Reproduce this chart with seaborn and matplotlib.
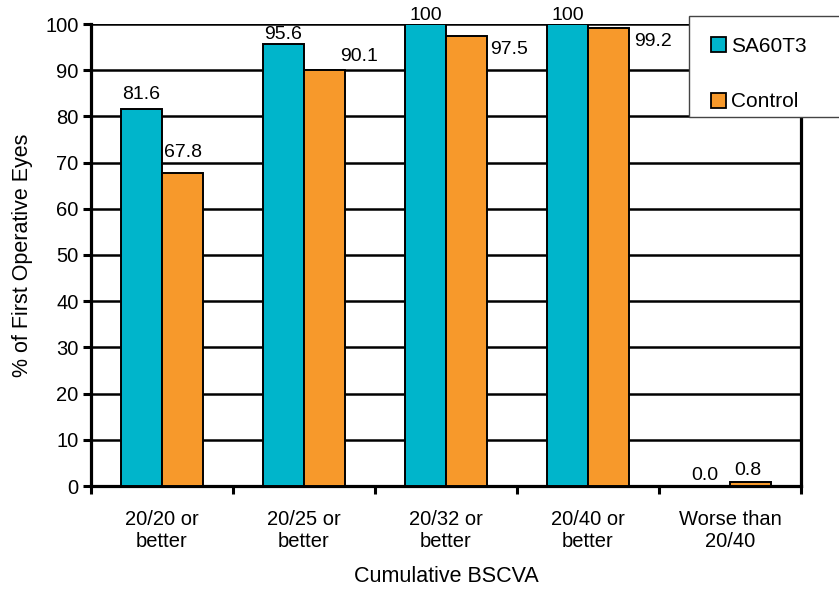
import matplotlib
matplotlib.use("Agg")
import matplotlib.pyplot as plt
import seaborn as sns
import pandas as pd
from matplotlib.patches import Rectangle, Patch

categories = ["20/20 or\nbetter", "20/25 or\nbetter", "20/32 or\nbetter", "20/40 or\nbetter", "Worse than\n20/40"]
sa60t3 = [81.6, 95.6, 100, 100, 0.0]
control = [67.8, 90.1, 97.5, 99.2, 0.8]
sa60t3_labels = ["81.6", "95.6", "100", "100", "0.0"]
control_labels = ["67.8", "90.1", "97.5", "99.2", "0.8"]
series = ["SA60T3", "Control"]
colors = ["#00B5CB", "#F7992B"]

df = pd.DataFrame({
    "cat": categories * 2,
    "val": sa60t3 + control,
    "series": [series[0]] * 5 + [series[1]] * 5,
})

sns.set_theme(style="white")
plt.rcParams["font.family"] = ["Liberation Sans", "DejaVu Sans"]
plt.rcParams.update({"text.color": "black", "axes.labelcolor": "black",
                     "xtick.color": "black", "ytick.color": "black"})

fig = plt.figure(figsize=(8.39, 5.94), dpi=100)
ax = fig.add_axes([91 / 839, 1 - 486 / 594, 710 / 839, 462 / 594])

sns.barplot(data=df, x="cat", y="val", hue="series", palette=colors, saturation=1,
            width=0.58, edgecolor="black", linewidth=1.4, ax=ax,
            legend=False, zorder=3)

ax.set_ylim(0, 100)
ax.set_xlim(-0.5, 4.5)
ax.set_yticks(range(0, 101, 10))
for y in range(10, 101, 10):
    ax.axhline(y, color="black", lw=1.8, zorder=1)

ax.set_xticks(range(5))
ax.set_xticklabels(categories, fontsize=14.5, linespacing=1.2)
ax.set_xticks([i - 0.5 for i in range(6)], minor=True)
ax.tick_params(axis="x", which="major", length=0, pad=17)
ax.tick_params(axis="x", which="minor", length=6, width=2.2, direction="out", color="black", bottom=True)
ax.tick_params(axis="y", length=6, width=2.2, direction="out", color="black", labelsize=14.5, left=True, pad=3)

for side in ["left", "bottom", "right"]:
    ax.spines[side].set_visible(True)
    ax.spines[side].set_color("black")
    ax.spines[side].set_linewidth(2.3)
ax.spines["top"].set_visible(False)

ax.set_xlabel("Cumulative BSCVA", fontsize=15.5, labelpad=11)
ax.set_ylabel("% of First Operative Eyes", fontsize=15.5, labelpad=9)

bw = 0.29
PX = 0.72  # points per pixel at 100 dpi
# value label offsets: (x shift in category units, y shift of text centre in pixels)
sa_off = [(0, 15), (0, 10), (0, 8), (0, 8), (-0.03, 11)]
ct_off = [(0, 20), (0.245, 13), (0.30, -14), (0.31, -14), (-0.02, 12)]
for i in range(5):
    for vals, labs, offs, sign in ((sa60t3, sa60t3_labels, sa_off, -1), (control, control_labels, ct_off, 1)):
        ax.annotate(labs[i], (i + sign * bw / 2 + offs[i][0], vals[i]),
                    xytext=(0, offs[i][1] * PX), textcoords="offset points",
                    ha="center", va="center", fontsize=14, annotation_clip=False, zorder=5)

# legend box
fig.patches.append(Rectangle((689 / 839, 1 - 117 / 594), 160 / 839, 101 / 594,
                             transform=fig.transFigure, facecolor="white",
                             edgecolor="#444444", lw=1.0, zorder=10))
handles = [Patch(facecolor=c, edgecolor="black", lw=1.3) for c in colors]
leg = fig.legend(handles, series, loc="upper left", bbox_to_anchor=(711 / 839, 1 - 37 / 594),
                 frameon=False, fontsize=15, handlelength=0.72, handleheight=0.72,
                 handletextpad=0.25, labelspacing=1.75, borderaxespad=0, borderpad=0)
leg.set_zorder(11)

fig.savefig("out.png", dpi=100)
